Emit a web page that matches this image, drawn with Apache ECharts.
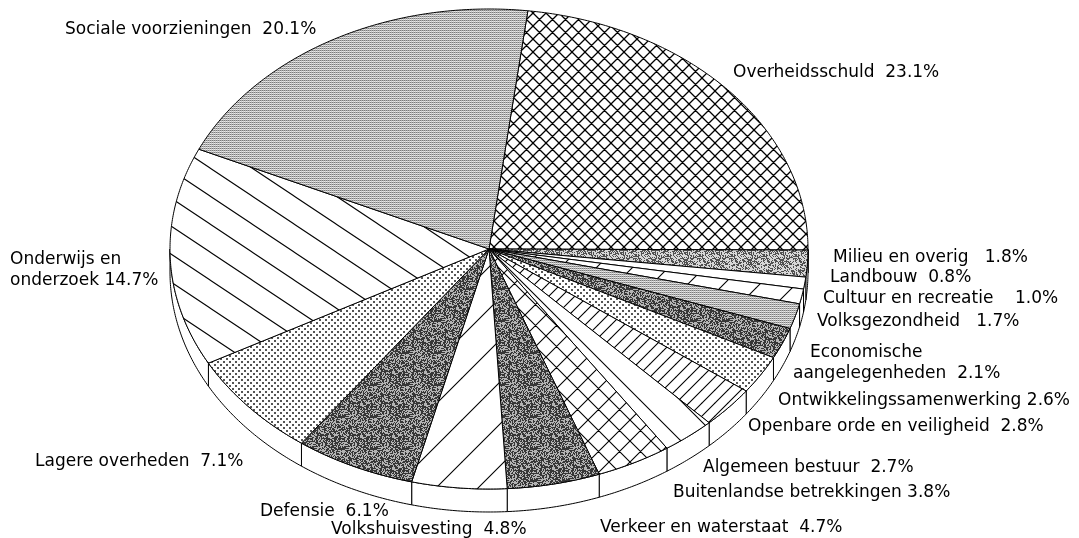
<!DOCTYPE html>
<html><head><meta charset="utf-8">
<script src="https://cdn.jsdelivr.net/npm/echarts@6/dist/echarts.min.js"></script>
<style>html,body{margin:0;padding:0;background:#fff}#c{width:1079px;height:538px}</style>
</head><body><div id="c"></div>
<script>
// ---- data ----
const categories = ['Overheidsschuld','Milieu en overig','Landbouw','Cultuur en recreatie','Volksgezondheid',
  'Economische\naangelegenheden','Ontwikkelingssamenwerking','Openbare orde en veiligheid','Algemeen bestuur',
  'Buitenlandse betrekkingen','Verkeer en waterstaat','Volkshuisvesting','Defensie','Lagere overheden',
  'Onderwijs en\nonderzoek','Sociale voorzieningen'];
const values = [23.1, 1.8, 0.8, 1.0, 1.7, 2.1, 2.6, 2.8, 2.7, 3.8, 4.7, 4.8, 6.1, 7.1, 14.7, 20.1];

// ---- layout / style ----
const CX = 489, CY = 249, RX = 319, RY = 240, DEPTH = 23, START = 7; // start: degrees clockwise from 12 o'clock
const labelGap = [2,3,2,4,3,2,1,2,2,1,2,2,2,2,1,2];          // spaces between name and percentage
const labelPos = [[[733,73]],[[833,258]],[[830,278]],[[823,299]],[[817,322]],[[810,353],[793,374]],
  [[778,401]],[[748,427]],[[703,468]],[[673,493]],[[600,528]],[[331,530]],[[260,512]],[[35,462]],
  [[10,260],[10,281]],[[65,30]]];
const fillKey = ['crossFine','gray','white','fwdMed','fine','dark','dots','fwdNarrow','backWide','crossLarge',
  'dark','fwdWide','dark','dots','backOnd','fine'];

function tile(w, h, draw) {
  const c = document.createElement('canvas'); c.width = w; c.height = h;
  const g = c.getContext('2d'); g.fillStyle = '#fff'; g.fillRect(0, 0, w, h); draw(g, w, h); return c;
}
function lines(g, w, h, segs, lw) {
  g.strokeStyle = '#000'; g.lineWidth = lw; g.beginPath();
  for (const [x1,y1,x2,y2] of segs) for (const ox of [-w,0,w]) for (const oy of [-h,0,h]) {
    g.moveTo(x1+ox, y1+oy); g.lineTo(x2+ox, y2+oy);
  }
  g.stroke();
}
function hash(x, y, s) {
  let h = (Math.imul(x, 374761393) + Math.imul(y, 668265263) + Math.imul(s, 2246822519)) | 0;
  h = Math.imul(h ^ (h >>> 13), 1274126177); h ^= h >>> 16; return (h >>> 0) / 4294967296;
}
function noise(size, density, dark, light, seed) {
  return tile(size, size, (g, w, h) => {
    const img = g.getImageData(0, 0, w, h);
    for (let y = 0; y < h; y++) for (let x = 0; x < w; x++) {
      const k = (y*w + x)*4; const v = hash(x, y, seed) < density ? dark : light;
      img.data[k] = img.data[k+1] = img.data[k+2] = v; img.data[k+3] = 255;
    }
    g.putImageData(img, 0, 0);
  });
}
const P = {
  white: '#ffffff',
  crossFine: tile(13, 13, (g,w,h) => lines(g,w,h,[[0,0,w,h],[w,0,0,h]],1.3)),
  crossLarge: tile(21, 21, (g,w,h) => lines(g,w,h,[[0,0,w,h],[w,0,0,h]],1.1)),
  fwdWide: tile(42, 42, (g,w,h) => lines(g,w,h,[[w,0,0,h]],1.1)),
  fwdMed: tile(36, 36, (g,w,h) => lines(g,w,h,[[w,0,0,h]],1.1)),
  fwdNarrow: tile(13, 13, (g,w,h) => lines(g,w,h,[[w,0,0,h]],1.1)),
  backWide: tile(40, 40, (g,w,h) => lines(g,w,h,[[0,0,w,h]],1.1)),
  backOnd: tile(42, 28, (g,w,h) => lines(g,w,h,[[0,0,w,h]],1.1)),
  fine: tile(2, 2, (g) => {
    g.fillStyle = '#7a7a7a'; g.fillRect(0,0,1,1); g.fillStyle = '#b0b0b0'; g.fillRect(1,0,1,1);
    g.fillStyle = '#cacaca'; g.fillRect(1,1,1,1); g.fillStyle = '#ececec'; g.fillRect(0,1,1,1);
  }),
  gray: noise(32, 0.45, 80, 215, 3),
  dark: noise(32, 0.55, 55, 180, 7),
  dots: tile(6, 6, (g) => { g.fillStyle = '#555'; g.fillRect(1,1,2,2); g.fillRect(4,4,2,2); })
};
function fillOf(i) { const p = P[fillKey[i]]; return typeof p === 'string' ? p : { image: p, repeat: 'repeat' }; }

const total = values.reduce((a, b) => a + b, 0);
const cum = []; { let acc = 0; values.forEach(v => { cum.push(acc); acc += v; }); }
function pt(deg, dy) { const r = deg*Math.PI/180; return [CX + RX*Math.sin(r), CY - RY*Math.cos(r) + dy]; }
function arc(a, b, dy) {
  const n = Math.max(2, Math.ceil(Math.abs(b - a)/0.5)), out = [];
  for (let k = 0; k <= n; k++) out.push(pt(a + (b - a)*k/n, dy));
  return out;
}

const chart = echarts.init(document.getElementById('c'), null, { renderer: 'canvas' });
chart.setOption({
  backgroundColor: '#fff',
  animation: false,
  series: [{
    type: 'custom',
    coordinateSystem: 'none',
    silent: true,
    data: values.map((v, i) => ({ name: categories[i], value: [v] })),
    renderItem: function (params, api) {
      const i = params.dataIndex, v = api.value(0);
      const a0 = START + cum[i]/total*360, a1 = a0 + v/total*360;
      const children = [];
      for (const [lo, hi] of [[90, 270], [450, 630]]) {
        const s = Math.max(a0, lo), e = Math.min(a1, hi);
        if (e > s) children.push({ type: 'polygon', shape: { points: arc(s, e, 0).concat(arc(e, s, DEPTH)) },
          style: { fill: '#fff', stroke: '#000', lineWidth: 1 } });
      }
      children.push({ type: 'polygon', shape: { points: [[CX, CY]].concat(arc(a0, a1, 0)) },
        style: { fill: fillOf(i), stroke: '#000', lineWidth: 1, lineJoin: 'round' } });
      const lines = categories[i].split('\n');
      lines[lines.length - 1] += ' '.repeat(labelGap[i]) + v.toFixed(1) + '%';
      lines.forEach((t, k) => {
        const [x, y] = labelPos[i][k];
        children.push({ type: 'text', style: { text: t, x: x, y: y, fill: '#000',
          font: '17px "DejaVu Sans"', align: 'left', verticalAlign: 'middle' } });
      });
      return { type: 'group', children: children };
    }
  }]
});
</script></body></html>
